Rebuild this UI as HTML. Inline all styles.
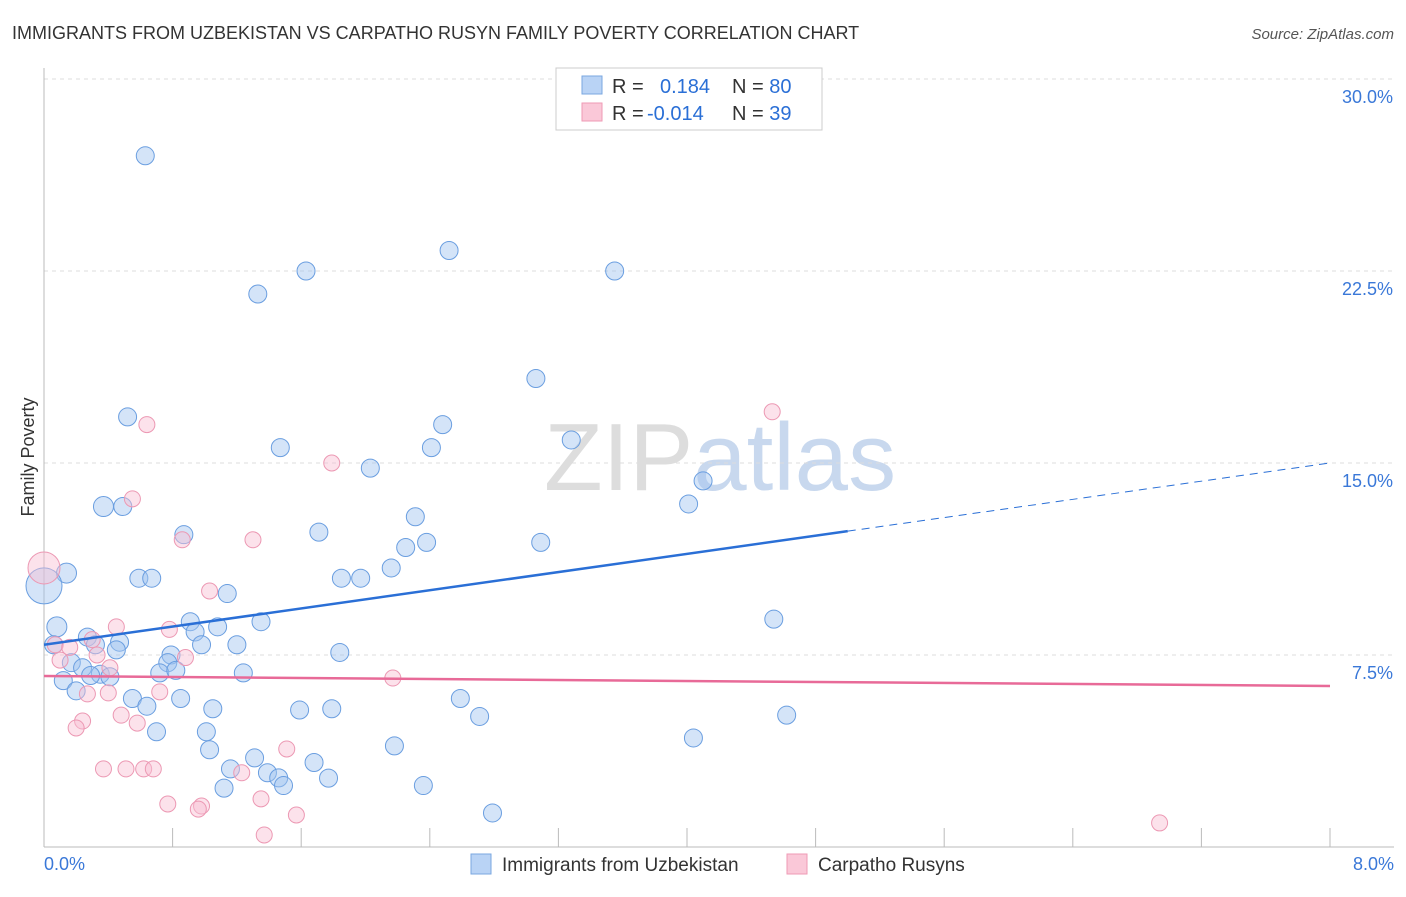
<!DOCTYPE html>
<html><head><meta charset="utf-8"><style>
body{margin:0;background:#fff;font-family:"Liberation Sans",sans-serif;}
svg text{font-family:"Liberation Sans",sans-serif;}
</style></head><body>
<svg id="chart" width="1406" height="892" xmlns="http://www.w3.org/2000/svg">
<text x="12" y="39" font-size="18" fill="#333">IMMIGRANTS FROM UZBEKISTAN VS CARPATHO RUSYN FAMILY POVERTY CORRELATION CHART</text>
<text x="1394" y="39" font-size="15" fill="#555" font-style="italic" text-anchor="end">Source: ZipAtlas.com</text>
<text x="720" y="490" font-size="96" fill="#ddd" text-anchor="middle" font-family="Liberation Serif">ZIP<tspan fill="#c8d8ee" font-family="Liberation Sans">atlas</tspan></text>
<text transform="translate(34,457) rotate(-90)" font-size="18" fill="#333" text-anchor="middle">Family Poverty</text>
<g id="grid"></g><g id="marks"></g>
<g>
<rect x="556" y="68" width="266" height="62" fill="#fff" stroke="#ccc"/>
<rect x="582" y="76" width="20" height="18" fill="#b9d3f5" stroke="#7aa7e0"/>
<rect x="582" y="103" width="20" height="18" fill="#fac8d8" stroke="#ef9ab5"/>
<text x="612" y="93" font-size="20" fill="#333">R = <tspan fill="#2a6fd6" x="660">0.184</tspan><tspan x="732" fill="#333">N = </tspan><tspan fill="#2a6fd6">80</tspan></text>
<text x="612" y="120" font-size="20" fill="#333">R = <tspan fill="#2a6fd6" x="647">-0.014</tspan><tspan x="732" fill="#333">N = </tspan><tspan fill="#2a6fd6">39</tspan></text>
</g>
<g>
<rect x="471" y="854" width="20" height="20" fill="#b9d3f5" stroke="#7aa7e0"/>
<text x="502" y="871" font-size="19" fill="#333">Immigrants from Uzbekistan</text>
<rect x="787" y="854" width="20" height="20" fill="#fac8d8" stroke="#ef9ab5"/>
<text x="818" y="871" font-size="19" fill="#333">Carpatho Rusyns</text>
</g>
</svg>
<script>
const yTicks=[7.5,15,22.5,30];
const yTickLabels=["7.5%","15.0%","22.5%","30.0%"];
const xTickLabels=["0.0%","8.0%"];
const blueX=[0.63,2.52,1.63,3.55,1.33,3.06,0.52,2.48,3.28,1.47,2.41,2.03,4.1,0.37,0.49,4.01,2.31,1.71,0.87,2.38,2.25,3.09,0.14,0.59,0.67,1.85,1.97,2.16,1.14,1.35,4.54,0.08,0.91,1.08,0.94,0.27,0.47,0.32,0.06,0.98,1.2,0.45,1.84,0.79,0.77,0.17,0.24,0.72,0.82,1.24,0.35,0.41,0.29,0.12,0.2,0.55,0.85,0.64,2.59,1.05,1.59,1.79,2.71,4.62,0.7,1.01,4.04,1.03,2.18,1.31,1.68,1.16,1.39,1.46,1.77,1.49,1.12,2.36,2.79,0.0];
const blueY=[27.0,23.3,22.5,22.5,21.6,18.3,16.8,16.5,15.9,15.6,15.6,14.8,14.3,13.3,13.3,13.4,12.9,12.3,12.2,11.9,11.7,11.9,10.7,10.5,10.5,10.5,10.5,10.9,9.9,8.8,8.9,8.6,8.8,8.6,8.4,8.2,8.0,7.9,7.9,7.9,7.9,7.7,7.6,7.5,7.2,7.2,7.0,6.8,6.9,6.8,6.75,6.65,6.7,6.5,6.1,5.8,5.8,5.5,5.8,5.4,5.35,5.4,5.1,5.15,4.5,4.5,4.26,3.8,3.95,3.48,3.3,3.05,2.9,2.7,2.69,2.4,2.3,2.4,1.33,10.2];
const blueR=[9,9,9,9,9,9,9,9,9,9,9,9,9,10,9,9,9,9,9,9,9,9,10,9,9,9,9,9,9,9,9,10,9,9,9,9,9,9,9,9,9,9,9,9,9,9,9,9,9,9,9,9,9,9,9,9,9,9,9,9,9,9,9,9,9,9,9,9,9,9,9,9,9,9,9,9,9,9,9,18];
const pinkX=[0.0,0.64,4.53,1.79,0.55,0.86,1.3,1.03,0.45,0.78,0.3,0.07,0.16,0.33,0.88,0.1,0.41,2.17,0.27,0.4,0.72,0.48,0.24,0.2,0.58,1.51,0.37,0.51,0.62,0.68,1.23,1.35,0.77,0.98,0.96,1.57,1.37,6.94];
const pinkY=[10.9,16.5,17.0,15.0,13.6,12.0,12.0,10.0,8.6,8.5,8.1,7.9,7.8,7.5,7.4,7.3,7.0,6.6,5.98,6.02,6.06,5.15,4.92,4.65,4.84,3.83,3.05,3.05,3.05,3.05,2.9,1.88,1.68,1.6,1.48,1.25,0.47,0.94];
const blueTrend=[7.9,15.0];
const pinkTrend=[6.68,6.29];
const NS='http://www.w3.org/2000/svg';
const sx=v=>44+v*160.75, sy=v=>847-v*25.6;
const grid=document.getElementById('grid'), marks=document.getElementById('marks');
function mk(tag,attrs,parent){const e=document.createElementNS(NS,tag);for(const k in attrs)e.setAttribute(k,attrs[k]);parent.appendChild(e);return e;}
yTicks.forEach((t,i)=>{
 const l=mk('line',{x1:44,x2:1394,y1:sy(t),y2:sy(t),stroke:'#ddd','stroke-dasharray':'4,4'},grid);
 
 
 const tx=mk('text',{x:1393,y:sy(t)+24,'font-size':18,fill:'#3a78d8','text-anchor':'end'},grid);
 tx.textContent=yTickLabels[i];
 
 
});
const ax=mk('line',{x1:44,x2:44,y1:68,y2:847,stroke:'#bbb'},grid);


const bx=mk('line',{x1:44,x2:1394,y1:847,y2:847,stroke:'#bbb'},grid);


for(let i=1;i<=10;i++){const t=mk('line',{x1:sx(i*0.8),x2:sx(i*0.8),y1:828,y2:847,stroke:'#bbb'},grid);
 
 }
[[0,'start',44],[8,'end',1394]].forEach((a,i)=>{const t=mk('text',{x:a[2],y:870,'font-size':18,fill:'#3a78d8','text-anchor':a[1]},grid);t.textContent=xTickLabels[i];
 
 });
blueX.forEach((x,i)=>{const c=mk('circle',{cx:sx(x),cy:sy(blueY[i]),r:blueR[i],fill:'rgba(160,195,240,0.45)',stroke:'#6a9ee0','stroke-width':1},marks);
 
 });
pinkX.forEach((x,i)=>{const c=mk('circle',{cx:sx(x),cy:sy(pinkY[i]),r:i==0?16:8,fill:'rgba(248,190,210,0.45)',stroke:'#ec98b3','stroke-width':1},marks);
 
 });
const bt=v=>blueTrend[0]+(blueTrend[1]-blueTrend[0])*v/8;
const l1=mk('line',{x1:sx(0),y1:sy(bt(0)),x2:sx(5),y2:sy(bt(5)),stroke:'#2a6fd6','stroke-width':2.5},marks);


const l2=mk('line',{x1:sx(5),y1:sy(bt(5)),x2:sx(8),y2:sy(bt(8)),stroke:'#2a6fd6','stroke-width':1,'stroke-dasharray':'8,6'},marks);


const l3=mk('line',{x1:sx(0),y1:sy(pinkTrend[0]),x2:sx(8),y2:sy(pinkTrend[1]),stroke:'#e86a98','stroke-width':2.5},marks);


</script>
</body></html>
